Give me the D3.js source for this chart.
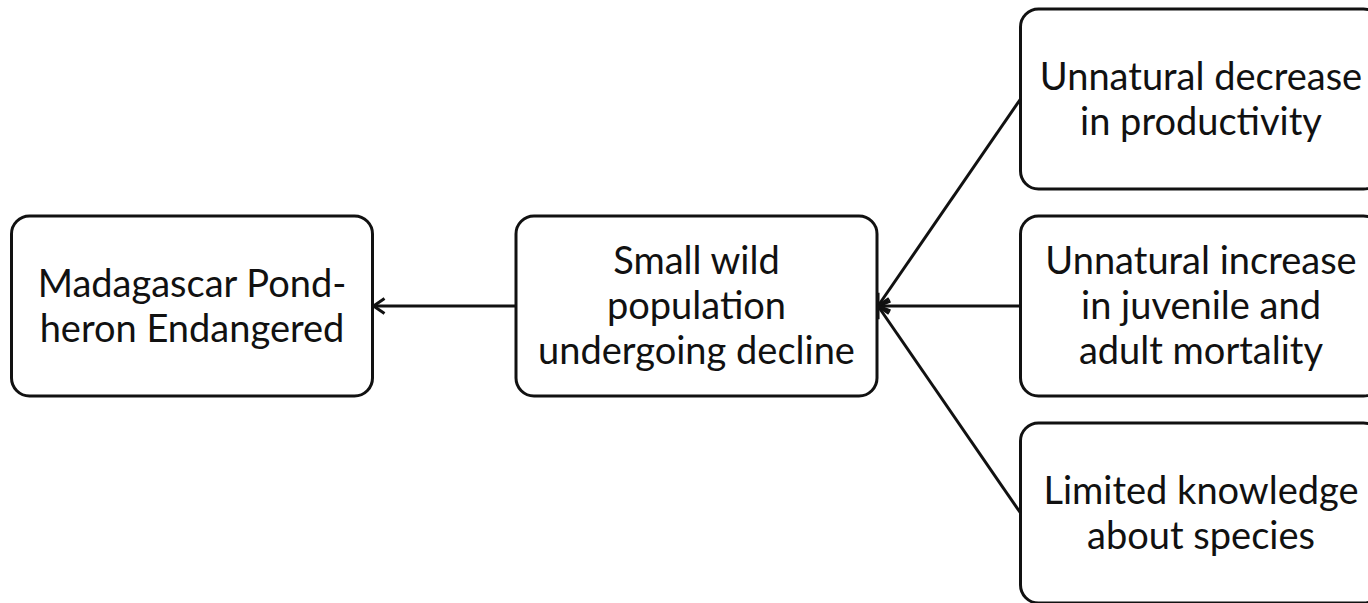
<!DOCTYPE html>
<html>
<head>
<meta charset="utf-8">
<script src="https://cdn.jsdelivr.net/npm/d3@7"></script>
<style>
  html, body { margin: 0; padding: 0; background: #fff; overflow: hidden; }
  text { font-family: Lato, "Open Sans", sans-serif; fill: #111; }
</style>
</head>
<body>
<svg id="chart"></svg>
<script>
// nodes of the diagram
const labels = [
  ["Madagascar Pond-", "heron Endangered"],
  ["Small wild", "population", "undergoing decline"],
  ["Unnatural decrease", "in productivity"],
  ["Unnatural increase", "in juvenile and", "adult mortality"],
  ["Limited knowledge", "about species"]
];
const columns = [0, 1, 2, 2, 2];
const rows = [1, 1, 0, 1, 2];
// links: source -> target (arrow at target)
const linkSource = [1, 2, 3, 4];
const linkTarget = [0, 1, 1, 1];

const width = 1368, height = 603;
const boxW = 361, boxH = 180;

const svg = d3.select("#chart").attr("width", width).attr("height", height);

const x = d3.scaleLinear().domain([0, 2]).range([192, 1201]);
const y = d3.scaleLinear().domain([0, 2]).range([99, 513]);

svg.append("defs").append("marker")
  .attr("id", "arrow")
  .attr("viewBox", "0 0 14 18")
  .attr("refX", 12).attr("refY", 9)
  .attr("markerWidth", 14).attr("markerHeight", 18)
  .attr("markerUnits", "userSpaceOnUse")
  .attr("orient", "auto")
  .append("path")
  .attr("d", "M1,1.5 L12,9 L1,16.5")
  .attr("fill", "none")
  .attr("stroke", "#111")
  .attr("stroke-width", 3);

const nodes = labels.map((l, i) => ({ lines: l, cx: x(columns[i]), cy: y(rows[i]) }));

const g = svg.selectAll("g.node")
  .data(nodes)
  .enter().append("g")
  .attr("class", "node")
  .attr("transform", d => `translate(${d.cx},${d.cy})`);

g.append("rect")
  .attr("x", -boxW / 2).attr("y", -boxH / 2)
  .attr("width", boxW).attr("height", boxH)
  .attr("rx", 18).attr("ry", 18)
  .attr("fill", "#fff")
  .attr("stroke", "#111")
  .attr("stroke-width", 3);

const lineH = 45;
g.each(function(d) {
  const t = d3.select(this).append("text")
    .attr("text-anchor", "middle")
    .style("font-size", "38px");
  d.lines.forEach((ln, i) => {
    t.append("tspan")
      .attr("x", 0)
      .attr("y", (i - (d.lines.length - 1) / 2) * lineH + 13)
      .text(ln);
  });
});

// links (drawn on top so arrowheads show)
svg.selectAll("line.link")
  .data(linkSource.map((s, i) => ({ s: nodes[s], t: nodes[linkTarget[i]] })))
  .enter().append("line")
  .attr("class", "link")
  .attr("x1", d => d.s.cx - boxW / 2)
  .attr("y1", d => d.s.cy)
  .attr("x2", d => d.t.cx + boxW / 2 + 1)
  .attr("y2", d => d.t.cy)
  .attr("stroke", "#111")
  .attr("stroke-width", 3)
  .attr("marker-end", "url(#arrow)");
</script>
</body>
</html>
